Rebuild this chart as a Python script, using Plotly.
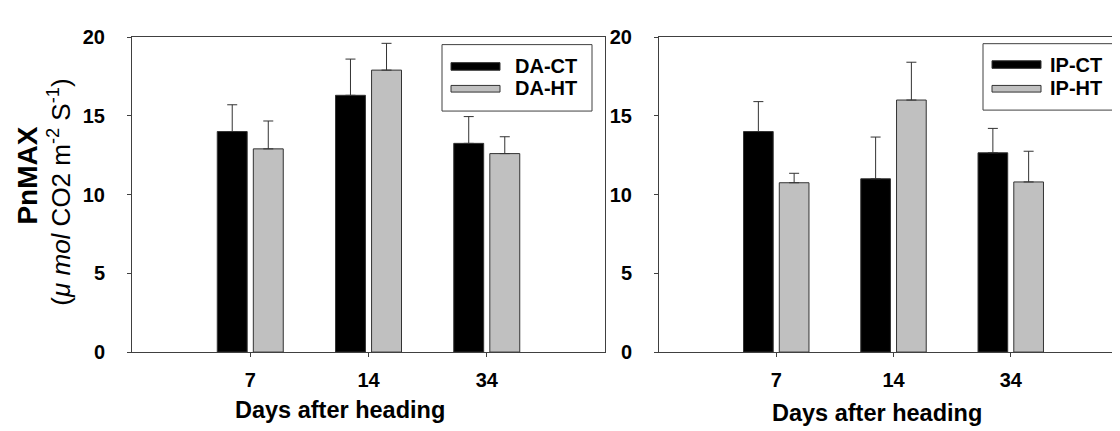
import plotly.graph_objects as go
from plotly.subplots import make_subplots

# ---- data ----
days = ["7", "14", "34"]
da_ct = [14.0, 16.3, 13.25]
da_ct_err = [1.7, 2.3, 1.7]
da_ht = [12.9, 17.9, 12.6]
da_ht_err = [1.77, 1.7, 1.07]
ip_ct = [14.0, 11.0, 12.65]
ip_ct_err = [1.9, 2.65, 1.55]
ip_ht = [10.75, 16.0, 10.8]
ip_ht_err = [0.6, 2.4, 1.95]
y_ticks = [0, 5, 10, 15, 20]

W, H = 1120, 431
FONT = "Liberation Sans, Arial, sans-serif"
LINE = "#404040"
GRAY = "#C0C0C0"

def px(x):
    return x / W

def py(y):
    return 1 - y / H

fig = make_subplots(rows=1, cols=2)

def add_bars(name, vals, errs, color, col):
    fig.add_trace(go.Bar(
        x=days, y=vals, name=name,
        marker=dict(color=color, line=dict(color="#333333", width=1)),
        error_y=dict(type="data", symmetric=False, array=errs,
                     arrayminus=[0] * len(errs), color="#333333",
                     thickness=1, width=5),
        showlegend=False,
    ), row=1, col=col)

add_bars("DA-CT", da_ct, da_ct_err, "black", 1)
add_bars("DA-HT", da_ht, da_ht_err, GRAY, 1)
add_bars("IP-CT", ip_ct, ip_ct_err, "black", 2)
add_bars("IP-HT", ip_ht, ip_ht_err, GRAY, 2)

tickfont = dict(family=FONT, size=20, color="black", weight="bold")

xcommon = dict(type="category", range=[-1, 3], showline=True, linecolor=LINE,
               linewidth=1, ticks="outside", ticklen=4, tickcolor=LINE,
               tickfont=tickfont, showgrid=False, zeroline=False,
               ticklabelstandoff=6)
ycommon = dict(range=[0, 20], tickvals=y_ticks, showline=True, linecolor=LINE,
               linewidth=1, ticks="outside", ticklen=4, tickcolor=LINE,
               tickfont=tickfont, showgrid=False, zeroline=False,
               ticklabelstandoff=18)

ydom = [py(351), py(19)]
fig.update_layout(
    xaxis=dict(xcommon, domain=[px(124), px(597)], mirror=True, anchor="y"),
    yaxis=dict(ycommon, domain=ydom, mirror=True, anchor="x"),
    xaxis2=dict(xcommon, domain=[px(651), 1.0], mirror=True, anchor="y2"),
    yaxis2=dict(ycommon, domain=ydom, mirror=False, anchor="x2"),
    barmode="group", bargap=0.39, bargroupgap=0.17,
    width=W, height=H, margin=dict(l=0, r=0, t=0, b=0),
    plot_bgcolor="white", paper_bgcolor="white",
    font=dict(family=FONT, color="black"),
)

shapes = []
annotations = []

def legend(box, sym_x, rows, text_x):
    x0, y0, x1, y1 = box
    shapes.append(dict(type="rect", xref="paper", yref="paper",
                       x0=px(x0), x1=px(x1), y0=py(y1), y1=py(y0),
                       line=dict(color=LINE, width=1), fillcolor="white", layer="above"))
    for (label, color, yt, yb, yc) in rows:
        shapes.append(dict(type="rect", xref="paper", yref="paper",
                           x0=px(sym_x[0]), x1=px(sym_x[1]), y0=py(yb), y1=py(yt),
                           line=dict(color="#333333", width=1), fillcolor=color, layer="above"))
        annotations.append(dict(xref="paper", yref="paper", x=px(text_x), y=py(yc),
                                xanchor="left", yanchor="middle", showarrow=False,
                                text="<b>%s</b>" % label,
                                font=dict(family=FONT, size=20, color="black")))

legend((434, 27, 584, 97), (443, 492),
       [("DA-CT", "black", 46, 54, 50), ("DA-HT", GRAY, 70, 77, 73)], 505)
legend((975, 26, 1117, 96), (984, 1033),
       [("IP-CT", "black", 44, 52, 48), ("IP-HT", GRAY, 70, 77, 73)], 1040)

# axis titles
for cx, cy in [(332, 412), (869, 415)]:
    annotations.append(dict(xref="paper", yref="paper", x=px(cx), y=py(cy),
                            xanchor="center", yanchor="middle", showarrow=False,
                            text="<b>Days after heading</b>",
                            font=dict(family=FONT, size=23.5, color="black")))

annotations.append(dict(xref="paper", yref="paper", x=px(20), y=py(165),
                        xanchor="center", yanchor="middle", showarrow=False,
                        textangle=-90, text="<b>PnMAX</b>",
                        font=dict(family=FONT, size=28, color="black")))
annotations.append(dict(xref="paper", yref="paper", x=px(52), y=py(183),
                        xanchor="center", yanchor="middle", showarrow=False,
                        textangle=-90,
                        text="(<i>\u03bc mol</i> CO2 m<sup>-2</sup> S<sup>-1</sup>)",
                        font=dict(family=FONT, size=26, color="black")))

fig.update_layout(shapes=shapes, annotations=annotations)
fig.write_html("out.html")
